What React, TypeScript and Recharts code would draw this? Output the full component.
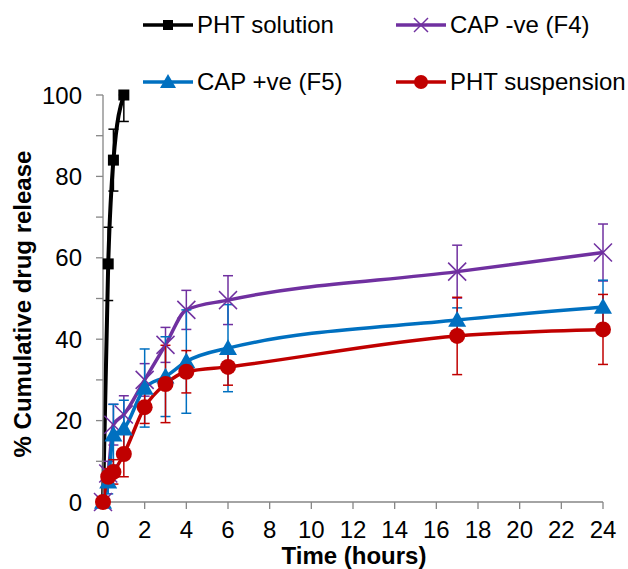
import React from "react";
import { LineChart, Line, XAxis, YAxis, ErrorBar } from "recharts";

// sampling times (hours)
const solutionTimes = [0, 0.25, 0.5, 1];
const times = [0, 0.25, 0.5, 1, 2, 3, 4, 6, 17, 24];

// % cumulative drug release
const solutionRelease = [0, 58.5, 84, 100];
const solutionErr = [0, 9, 7.6, [6.5, 0]];
const f4Release = [0, 7, 19, 21.5, 30, 38.6, 47.2, 49.6, 56.6, 61.3];
const f4Err = [0, 3, 5, 4.6, 4, 4.3, 4.8, 6, 6.5, 7];
const f5Release = [0, 5, 16.5, 18, 28, 30.8, 34.5, 37.8, 44.7, 47.9];
const f5Err = [0, 3, 7.5, 7, 9.6, 9.8, 12.7, 10.7, 3, 6.6];
const suspRelease = [0, 6.2, 7.4, 11.8, 23.3, 29, 32, 33.2, 40.8, 42.4];
const suspErr = [0, 2, 3, 5.6, 4, 9.5, 5.2, 4.5, 9.5, 8.6];

const xTicks = [0, 2, 4, 6, 8, 10, 12, 14, 16, 18, 20, 22, 24];
const yTicks = [0, 10, 20, 30, 40, 50, 60, 70, 80, 90, 100];

const FONT = "'Liberation Sans', Arial, sans-serif";
const AXIS = "#868686";

const toRows = (ts: number[], vs: number[], es: any[]) =>
  ts.map((t, i) => ({ t, v: vs[i], err: es[i] }));

function Square({ cx, cy, color, s = 11 }: any) {
  return <rect x={cx - s / 2} y={cy - s / 2} width={s} height={s} fill={color} />;
}
function Cross({ cx, cy, color, s = 9 }: any) {
  return (
    <g stroke={color} strokeWidth={1.5}>
      <line x1={cx - s} y1={cy - s} x2={cx + s} y2={cy + s} />
      <line x1={cx - s} y1={cy + s} x2={cx + s} y2={cy - s} />
    </g>
  );
}
function Triangle({ cx, cy, color, s = 9 }: any) {
  return (
    <polygon
      points={`${cx},${cy - s} ${cx + s},${cy + s * 0.75} ${cx - s},${cy + s * 0.75}`}
      fill={color}
    />
  );
}
function Circle({ cx, cy, color, s = 8 }: any) {
  return <circle cx={cx} cy={cy} r={s} fill={color} />;
}

const series = [
  { name: "PHT solution", color: "#000000", rows: toRows(solutionTimes, solutionRelease, solutionErr), Marker: Square, legendSize: 10, width: 4 },
  { name: "CAP -ve (F4)", color: "#7030A0", rows: toRows(times, f4Release, f4Err), Marker: Cross, legendSize: 7, width: 3.5 },
  { name: "CAP +ve (F5)", color: "#0070C0", rows: toRows(times, f5Release, f5Err), Marker: Triangle, legendSize: 8, width: 3.5 },
  { name: "PHT suspension", color: "#C00000", rows: toRows(times, suspRelease, suspErr), Marker: Circle, legendSize: 7, width: 3.5 },
];

// legend slots: [left of sample line, row centre y]
const legendSlots = [
  [143, 25],
  [396, 25],
  [143, 82],
  [396, 82],
];

export default function App() {
  return (
    <div style={{ position: "absolute", left: 0, top: 0, width: 628, height: 569, fontFamily: FONT, background: "#fff", overflow: "hidden" }}>
      <LineChart
        width={628}
        height={569}
        margin={{ top: 95, right: 25, bottom: 37, left: 0 }}
        style={{ fontFamily: FONT }}
      >
        <XAxis
          dataKey="t"
          type="number"
          domain={[0, 24]}
          ticks={xTicks}
          height={30}
          tickSize={7}
          tickMargin={12}
          axisLine={{ stroke: AXIS, strokeWidth: 1.3 }}
          tickLine={{ stroke: AXIS, strokeWidth: 1.3 }}
          tick={{ fontSize: 24, fill: "#000" }}
          allowDuplicatedCategory={false}
        />
        <YAxis
          type="number"
          domain={[0, 100]}
          ticks={yTicks}
          width={103}
          tickSize={7}
          tickMargin={14}
          interval={0}
          tickFormatter={(v: number) => (v % 20 === 0 ? String(v) : "")}
          axisLine={{ stroke: AXIS, strokeWidth: 1.3 }}
          tickLine={{ stroke: AXIS, strokeWidth: 1.3 }}
          tick={{ fontSize: 24, fill: "#000" }}
        />
        {series.map((s) => (
          <Line
            key={s.name}
            data={s.rows}
            dataKey="v"
            name={s.name}
            type="monotone"
            stroke={s.color}
            strokeWidth={s.width}
            isAnimationActive={false}
            dot={(p: any) => <s.Marker key={`${s.name}-${p.index}`} cx={p.cx} cy={p.cy} color={s.color} />}
            activeDot={false}
          >
            <ErrorBar dataKey="err" direction="y" width={5} stroke={s.color} strokeWidth={1.5} />
          </Line>
        ))}
      </LineChart>

      {series.map((s, i) => {
        const [lx, cy] = legendSlots[i];
        return (
          <div key={s.name} style={{ position: "absolute", left: lx, top: cy - 15, height: 30, display: "flex", alignItems: "center" }}>
            <svg width={52} height={30} style={{ display: "block" }}>
              <line x1={0} y1={15} x2={50} y2={15} stroke={s.color} strokeWidth={3.5} />
              <s.Marker cx={25} cy={15} color={s.color} s={s.legendSize} />
            </svg>
            <span style={{ fontSize: 24, color: "#000", whiteSpace: "nowrap", marginLeft: 2 }}>{s.name}</span>
          </div>
        );
      })}

      <div
        style={{
          position: "absolute",
          left: 354,
          top: 556,
          transform: "translate(-50%, -50%)",
          fontSize: 24,
          fontWeight: "bold",
          whiteSpace: "nowrap",
          lineHeight: "26px",
        }}
      >
        Time (hours)
      </div>
      <div
        style={{
          position: "absolute",
          left: 23,
          top: 304,
          transform: "translate(-50%, -50%) rotate(-90deg)",
          fontSize: 24,
          fontWeight: "bold",
          whiteSpace: "nowrap",
        }}
      >
        % Cumulative drug release
      </div>
    </div>
  );
}
